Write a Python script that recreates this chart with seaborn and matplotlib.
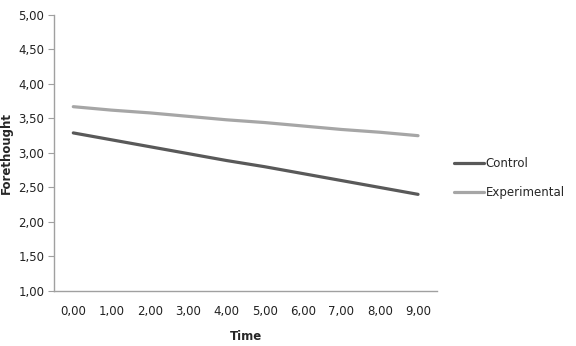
import pandas as pd
import matplotlib
matplotlib.use("Agg")
import matplotlib.pyplot as plt
import seaborn as sns

# Data
time = [0, 1, 2, 3, 4, 5, 6, 7, 8, 9]
time_labels = ["0,00", "1,00", "2,00", "3,00", "4,00", "5,00", "6,00", "7,00", "8,00", "9,00"]
control = [3.29, 3.19, 3.09, 2.99, 2.89, 2.80, 2.70, 2.60, 2.50, 2.40]
experimental = [3.67, 3.62, 3.58, 3.53, 3.48, 3.44, 3.39, 3.34, 3.30, 3.25]

df = pd.DataFrame({
    "Time": time * 2,
    "Forethought": control + experimental,
    "Group": ["Control"] * len(time) + ["Experimental"] * len(time),
})

sns.set_style("white")
plt.rcParams["font.family"] = ["DejaVu Sans"]

fig = plt.figure(figsize=(5.76, 3.46), dpi=100)
ax = fig.add_axes([0.094, 0.159, 0.665, 0.798])

sns.lineplot(data=df, x="Time", y="Forethought", hue="Group",
             palette={"Control": "#595959", "Experimental": "#a6a6a6"},
             linewidth=2.3, ax=ax)

ax.set_xlim(-0.5, 9.5)
ax.set_ylim(1, 5)
ax.set_xticks(time)
ax.set_xticklabels(time_labels, fontsize=8.5, color="#222222")
yt = [1 + 0.5 * i for i in range(9)]
ax.set_yticks(yt)
ax.set_yticklabels([f"{v:.2f}".replace(".", ",") for v in yt], fontsize=8.5, color="#222222")

ax.tick_params(axis="x", length=0, pad=10)
ax.tick_params(axis="y", length=4, width=0.8, color="#a0a0a0", pad=3, direction="out", left=True)

for s in ["top", "right"]:
    ax.spines[s].set_visible(False)
for s in ["left", "bottom"]:
    ax.spines[s].set_color("#a0a0a0")
    ax.spines[s].set_linewidth(1)

ax.set_xlabel("Time", fontsize=8.5, fontweight="bold", labelpad=9)
ax.set_ylabel("Forethought", fontsize=8.5, fontweight="bold")
ax.yaxis.set_label_coords(-0.108, 0.5)

ax.legend(loc="center left", bbox_to_anchor=(1.015, 0.41), frameon=False,
          fontsize=8.5, handlelength=2.6, handletextpad=0.1, labelspacing=1.35)

fig.savefig("out.png", dpi=100)
